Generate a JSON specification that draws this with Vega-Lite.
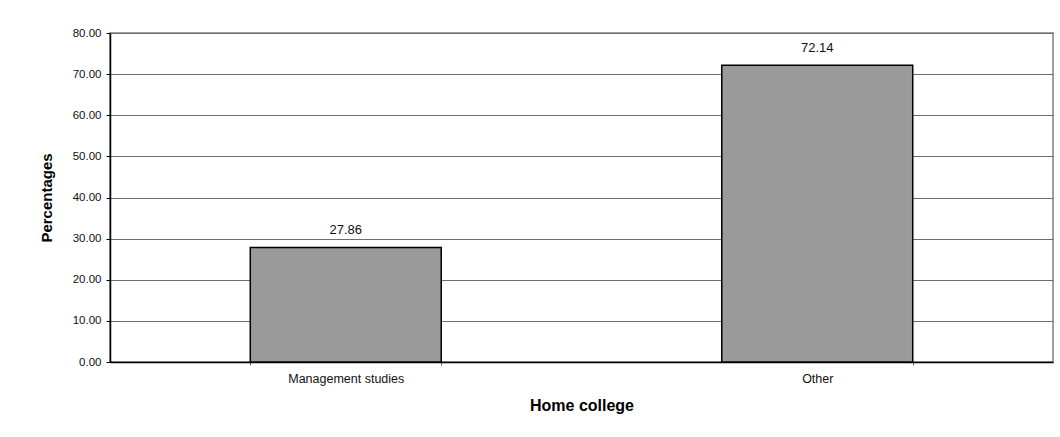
{
  "$schema": "https://vega.github.io/schema/vega-lite/v6.json",
  "autosize": {"type": "none"},
  "width": 943,
  "height": 329,
  "padding": {"left": 110, "top": 33, "right": 7, "bottom": 75},
  "background": "white",
  "config": {
    "font": "Liberation Sans",
    "view": {"stroke": "#808080", "strokeWidth": 1.5}
  },
  "data": {
    "values": [
      {"college": "Management studies", "pct": 27.86},
      {"college": "Other", "pct": 72.14}
    ]
  },
  "encoding": {
    "x": {
      "field": "college",
      "type": "nominal",
      "sort": null,
      "scale": {"paddingInner": 0.595, "paddingOuter": 0.2975},
      "axis": {
        "title": "Home college",
        "titleFont": "Liberation Sans",
        "titleFontSize": 16,
        "titleFontWeight": "bold",
        "titleColor": "#000000",
        "titlePadding": 13,
        "labelAngle": 0,
        "labelFontSize": 12.5,
        "labelColor": "#111111",
        "labelPadding": 7,
        "tickBand": "extent",
        "tickSize": 3,
        "tickColor": "#666666",
        "domainColor": "#000000",
        "domainWidth": 1.5,
        "grid": false
      }
    },
    "y": {
      "field": "pct",
      "type": "quantitative",
      "scale": {"domain": [0, 80], "nice": false},
      "axis": {
        "title": "Percentages",
        "titleFont": "Liberation Sans",
        "titleFontSize": 15,
        "titleFontWeight": "bold",
        "titleColor": "#000000",
        "titlePadding": 18,
        "values": [0, 10, 20, 30, 40, 50, 60, 70, 80],
        "format": ".2f",
        "labelFontSize": 11.5,
        "labelColor": "#111111",
        "labelPadding": 5,
        "tickSize": 4,
        "tickColor": "#000000",
        "domainColor": "#000000",
        "domainWidth": 1.5,
        "grid": true,
        "gridColor": "#6e6e6e",
        "gridWidth": 1
      }
    }
  },
  "layer": [
    {
      "mark": {"type": "bar", "fill": "#9a9a9a", "stroke": "#000000", "strokeWidth": 1.5}
    },
    {
      "mark": {"type": "text", "dy": -10, "fontSize": 13, "color": "#111111", "baseline": "bottom"},
      "encoding": {
        "text": {"field": "pct", "type": "quantitative", "format": ".2f"}
      }
    }
  ]
}
